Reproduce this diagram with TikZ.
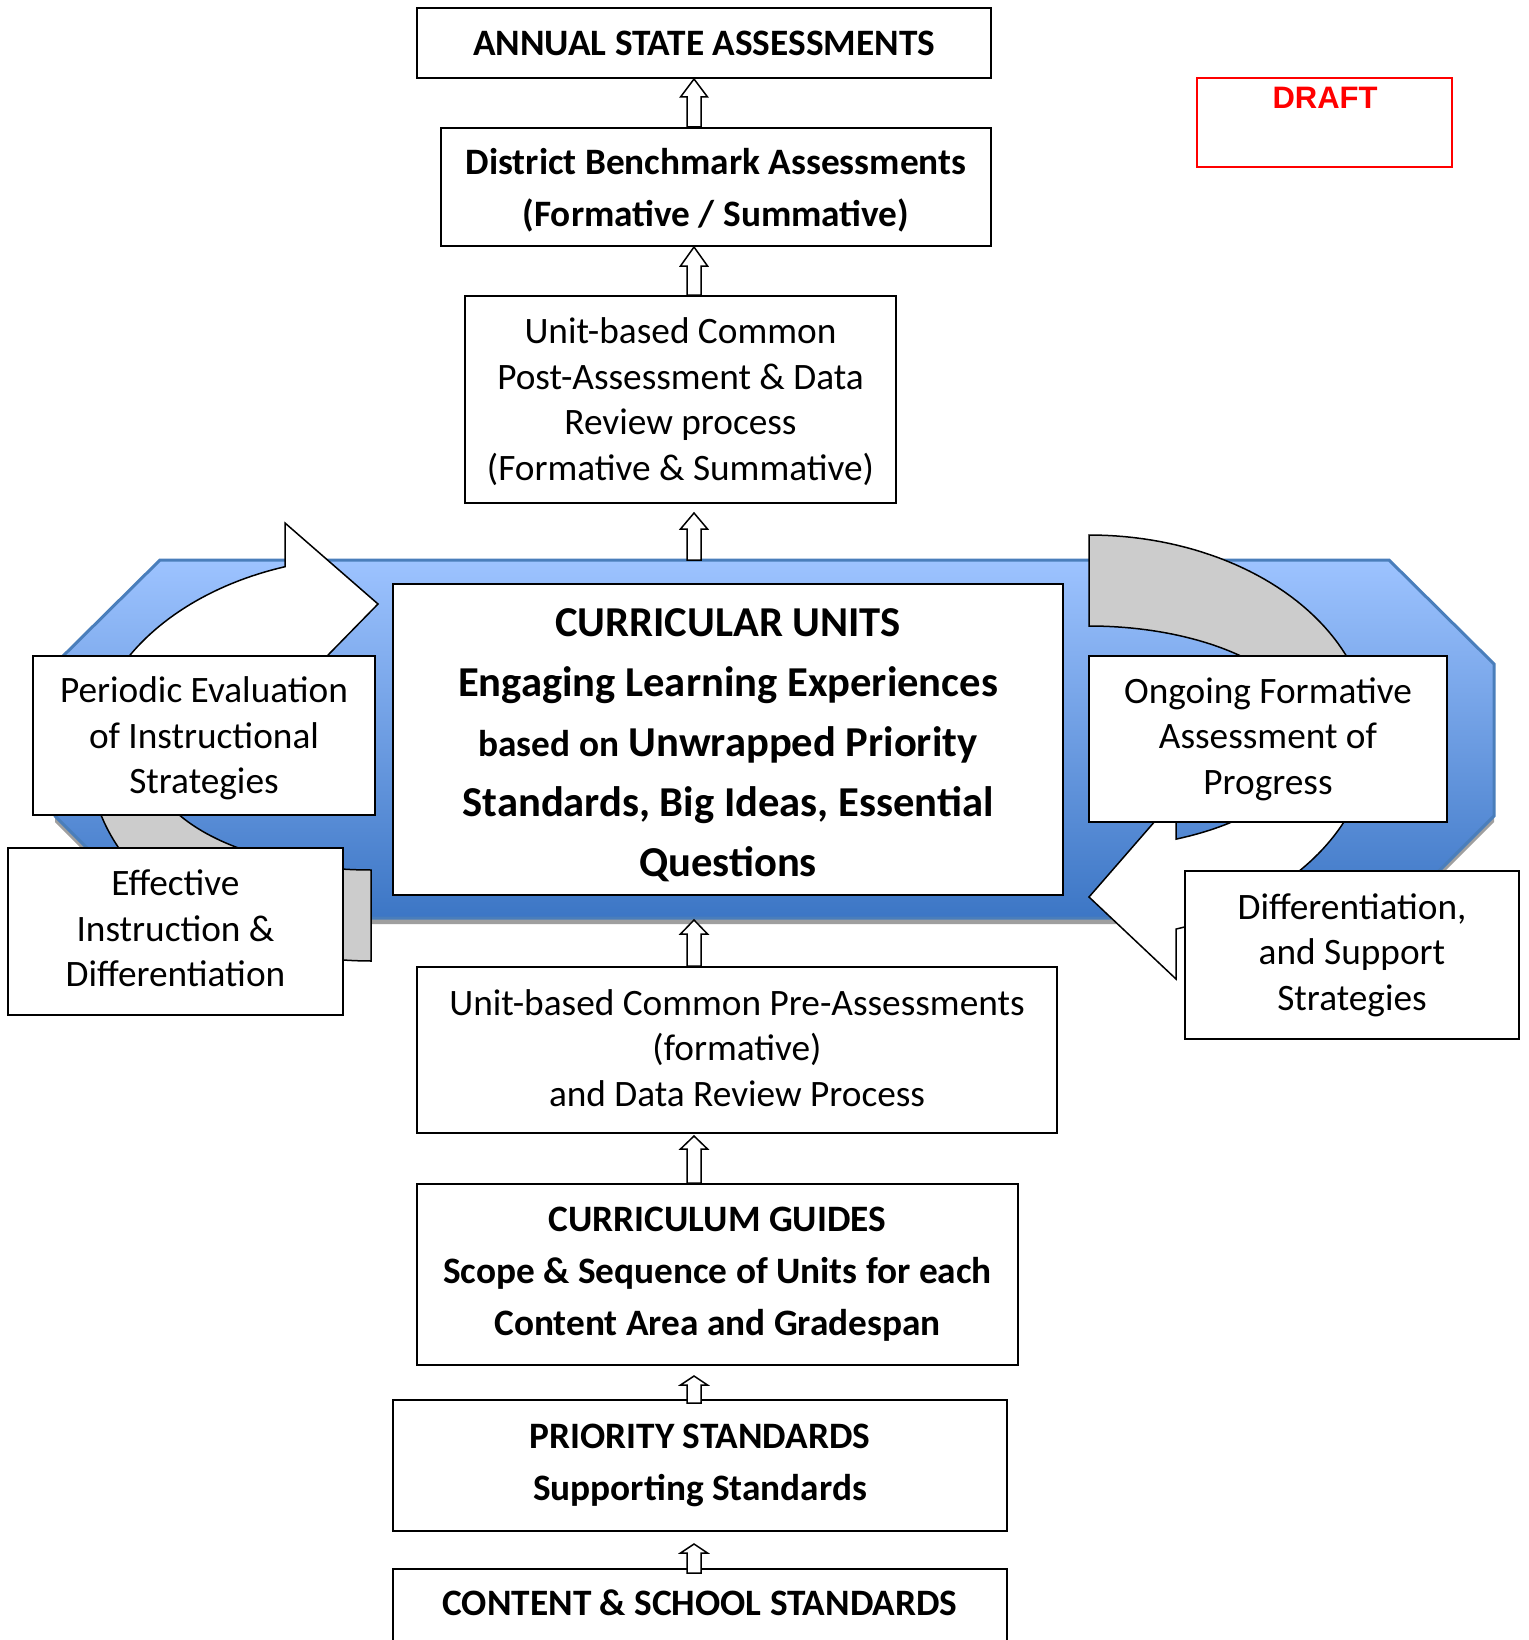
\documentclass[tikz,border=0pt]{standalone}
\usepackage{fontspec}
\setmainfont{Carlito}
\newfontfamily\arialfont{Liberation Sans}
\usetikzlibrary{calc}
\definecolor{hexTop}{HTML}{9DC3FF}
\definecolor{hexBot}{HTML}{3C76C5}
\definecolor{hexEdge}{HTML}{4A7EBB}
\definecolor{arcGray}{HTML}{CCCCCC}
\definecolor{draftRed}{HTML}{FF0000}
\tikzset{
  box/.style={draw=black, line width=2pt, fill=white, inner sep=0pt, align=center},
  reg/.style={font=\fontsize{37.3}{45.5}\selectfont},
  bld/.style={font=\fontsize{37.3}{52}\selectfont\bfseries},
  barrow/.style={draw=black, line width=1.5pt, fill=white, line join=miter},
  ringwhite/.style={draw=black, line width=1.5pt, fill=white},
  ringgray/.style={draw=black, line width=1.5pt, fill=arcGray},
}
\newcommand\blockup[3]{%
  \path[barrow] let \p1=(#1), \p2=(#2) in
   (\x1-7pt,\y1) -- (\x1-7pt,\y2-#3) -- (\x1-13.5pt,\y2-#3) -- (\x1,\y2)
   -- (\x1+13.5pt,\y2-#3) -- (\x1+7pt,\y2-#3) -- (\x1+7pt,\y1) -- cycle;}
\begin{document}
\begin{tikzpicture}[x=1pt,y=-1pt]
\useasboundingbox (0,0) rectangle (1528,1640);
\clip (0,0) rectangle (1528,1640);
\fill[white] (0,0) rectangle (1528,1640);
\coordinate (ax) at (694,0);
% hexagon band
\fill[gray!75, yshift=-6pt] (160,560) -- (1389,560) -- (1494,664) -- (1494,816) -- (1392,918) -- (157,918) -- (55,816) -- (55,664) -- cycle;
\path[top color=hexTop, bottom color=hexBot, draw=hexEdge, line width=3pt]
  (160,560) -- (1389,560) -- (1494,664) -- (1494,816) -- (1392,918) -- (157,918) -- (55,816) -- (55,664) -- cycle;
\coordinate (hextop) at (694,560);
% left cycle
\path[ringgray] plot[domain=90:180, samples=50] ({371+281*cos(\x)},{759+202*sin(\x)})
  -- plot[domain=180:90, samples=50] ({371+222*cos(\x)},{759+111*sin(\x)}) -- cycle;
\path[ringwhite] plot[domain=180:252.2, samples=50] ({371+281*cos(\x)},{759+202*sin(\x)})
  -- (285,523) -- (378,604) -- (285,699)
  -- plot[domain=247.2:180, samples=50] ({371+222*cos(\x)},{759+111*sin(\x)}) -- cycle;
% right cycle
\path[ringgray] plot[domain=-90:0, samples=50] ({1089+281*cos(\x)},{737+202*sin(\x)})
  -- plot[domain=0:-90, samples=50] ({1089+222*cos(\x)},{737+111*sin(\x)}) -- cycle;
\path[ringwhite] plot[domain=0:71.96, samples=50] ({1089+281*cos(\x)},{737+202*sin(\x)})
  -- (1176,979) -- (1089,897) -- (1176,797)
  -- plot[domain=66.93:0, samples=50] ({1089+222*cos(\x)},{737+111*sin(\x)}) -- cycle;
% boxes
\node[box, bld, minimum width=574pt, minimum height=70pt] (annual) at (704,43) {ANNUAL STATE ASSESSMENTS};
\node[box, bld, minimum width=550pt, minimum height=118pt] (district) at (716,187) {\rule{0pt}{32pt}District Benchmark Assessments\\(Formative / Summative)};
\node[box, reg, minimum width=431pt, minimum height=207pt] (post) at (680.5,399.5) {\rule{0pt}{30pt}Unit-based Common\\Post-Assessment \& Data\\Review process\\(Formative \& Summative)};
\node[box, font=\fontsize{42.6}{60}\selectfont\bfseries, minimum width=670pt, minimum height=311pt] (cu) at (728,739.5)
  {\rule{0pt}{39pt}CURRICULAR UNITS\\Engaging Learning Experiences\\{\fontsize{37.3}{60}\selectfont based on} Unwrapped Priority\\Standards, Big Ideas, Essential\\Questions};
\node[box, reg, minimum width=342pt, minimum height=159pt] (periodic) at (204,735.5) {\rule{0pt}{32pt}Periodic Evaluation\\of Instructional\\Strategies};
\node[box, reg, minimum width=335pt, minimum height=167pt] (effective) at (175.5,931.5) {Effective\\Instruction \&\\Differentiation\rule[-6pt]{0pt}{0pt}};
\node[box, reg, minimum width=358pt, minimum height=166pt] (ongoing) at (1268,739) {Ongoing Formative\\Assessment of\\Progress};
\node[box, reg, minimum width=334pt, minimum height=168pt] (diff) at (1352,955) {Differentiation,\\and Support\\Strategies};
\node[box, reg, minimum width=640pt, minimum height=166pt] (pre) at (737,1050) {Unit-based Common Pre-Assessments\\(formative)\\and Data Review Process\rule[-4pt]{0pt}{0pt}};
\node[box, bld, minimum width=601pt, minimum height=181pt] (guides) at (717.5,1274.5) {CURRICULUM GUIDES\\Scope \& Sequence of Units for each\\Content Area and Gradespan};
\node[box, bld, minimum width=614pt, minimum height=131pt] (priority) at (700,1465.5) {PRIORITY STANDARDS\\Supporting Standards};
\node[box, bld, anchor=north, minimum width=614pt, text height=46pt, text depth=90pt] (content) at (700,1568) {CONTENT \& SCHOOL STANDARDS};
% draft stamp
\node[draw=draftRed, line width=2pt, minimum width=255pt, minimum height=89pt, inner sep=0pt] (draftbox) at (1324.5,122.5) {};
\node[anchor=base, text=draftRed, font=\arialfont\bfseries\fontsize{31}{36}\selectfont, inner sep=0pt] (draft) at (1325,109) {DRAFT};
% block arrows
\blockup{district.north -| ax}{annual.south -| ax}{18pt}
\blockup{post.north -| ax}{district.south -| ax}{19pt}
\blockup{hextop}{$(post.south -| ax)+(0,9)$}{16pt}
\blockup{pre.north -| ax}{$(cu.south -| ax)+(0,24)$}{14pt}
\blockup{guides.north -| ax}{$(pre.south -| ax)+(0,2)$}{13pt}
\blockup{$(priority.north -| ax)+(0,4)$}{$(guides.south -| ax)+(0,10)$}{9pt}
\blockup{$(content.north -| ax)+(0,5)$}{$(priority.south -| ax)+(0,12)$}{9pt}
\end{tikzpicture}
\end{document}
